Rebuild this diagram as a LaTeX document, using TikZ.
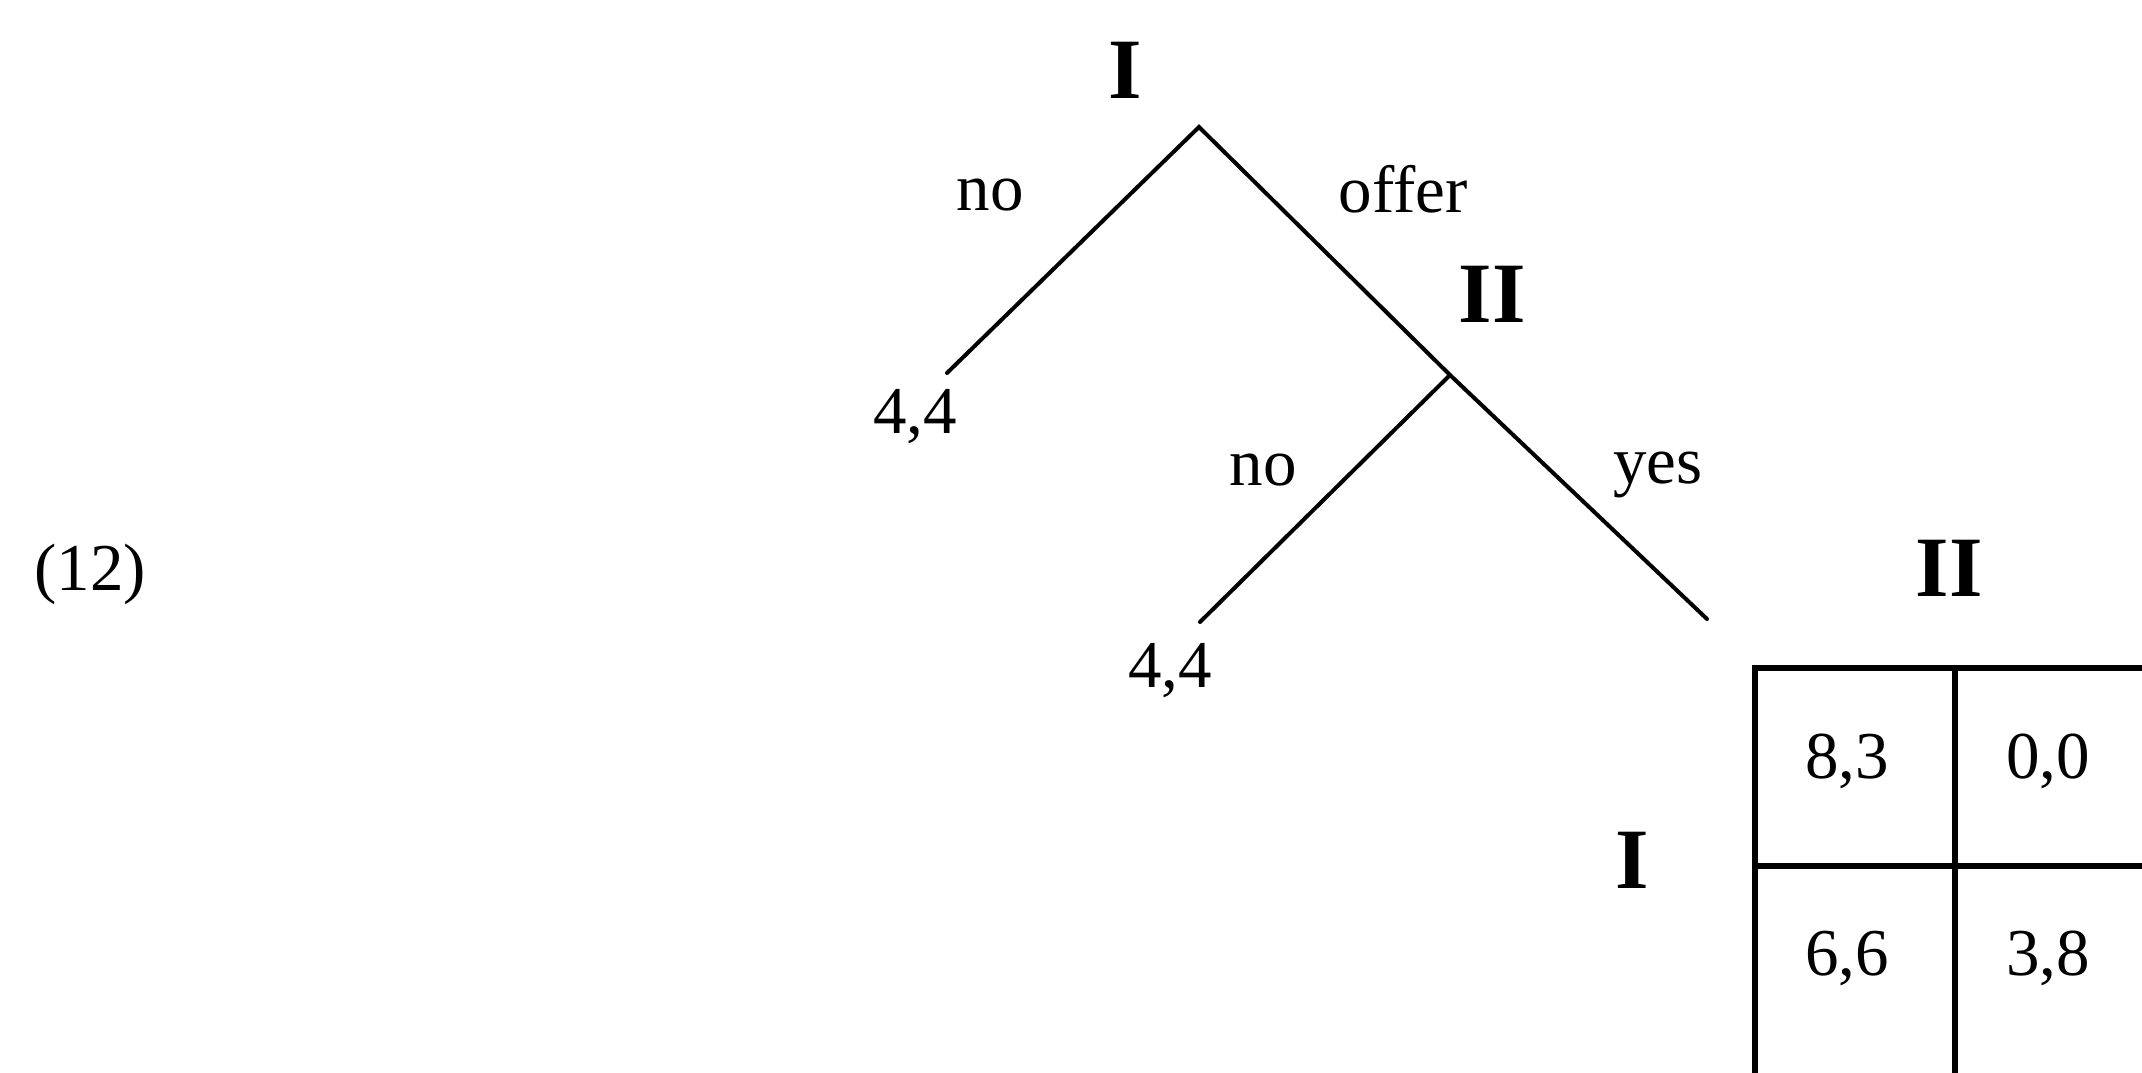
\documentclass[tikz,border=0pt]{standalone}
\usepackage{fontspec}
\setmainfont{Liberation Serif}
\begin{document}
\begin{tikzpicture}[x=0.5pt,y=-0.5pt,
  edge/.style={line width=2pt,line cap=round},
  grid/.style={line width=2.7pt},
  lbl/.style={anchor=base,inner sep=0pt,font=\fontsize{33.5}{40}\selectfont},
  player/.style={anchor=base,inner sep=0pt,font=\fontsize{43}{50}\selectfont\bfseries}]
\useasboundingbox (0,0) rectangle (2142,1072);
\clip (0,0) rectangle (2142,1072);
% tree vertices
\coordinate (root) at (1199,127);
\coordinate (leafA) at (947,373);
\coordinate (nodeII) at (1450,375);
\coordinate (leafB) at (1200,622);
\coordinate (leafC) at (1707,619);
\draw[edge] (leafA) -- (root) -- (nodeII) -- (leafC);
\draw[edge] (nodeII) -- (leafB);
% labels
\node[lbl] (eqno) at (90,590) {(12)};
\node[player] (pI) at (1125,98) {I};
\node[lbl] (noA) at (990,210) {no};
\node[lbl] (offer) at (1403,212) {offer};
\node[player] (pII) at (1492,322) {II};
\node[lbl] (payA) at (915,433) {4,4};
\node[lbl] (noB) at (1263,485) {no};
\node[lbl] (yes) at (1658,483) {yes};
\node[lbl] (payB) at (1170,687) {4,4};
% matrix
\node[player] (mII) at (1949,596) {II};
\node[player] (mI) at (1632,888) {I};
\draw[grid] (1755,1100) -- (1755,668) -- (2200,668);
\draw[grid] (1955,668) -- (1955,1100);
\draw[grid] (1755,866) -- (2200,866);
\draw[grid] (2155,668) -- (2155,1100);
\node[lbl] (c11) at (1847,778) {8,3};
\node[lbl] (c12) at (2048,778) {0,0};
\node[lbl] (c21) at (1847,975) {6,6};
\node[lbl] (c22) at (2048,975) {3,8};
\end{tikzpicture}
\end{document}
